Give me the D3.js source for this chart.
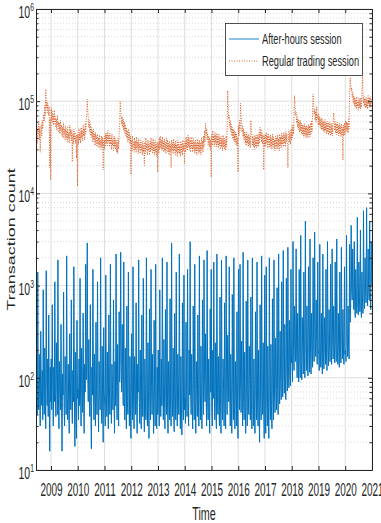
<!DOCTYPE html>
<html>
<head>
<meta charset="utf-8">
<script src="https://cdn.jsdelivr.net/npm/d3@7"></script>
<style>
  body { margin: 0; background: #fff; }
  text { font-family: "Liberation Sans", Arial, sans-serif; fill: #262626; }
</style>
</head>
<body>
<svg id="chart" width="381" height="523"></svg>
<script>
// x tick labels (years)
const years = [2009, 2010, 2011, 2012, 2013, 2014, 2015, 2016, 2017, 2018, 2019, 2020, 2021];
const decades = [1e1, 1e2, 1e3, 1e4, 1e5, 1e6];

// after-hours session transaction count, roughly weekly readings per year
const ah2008 = [55, 140, 40, 1400, 90, 45, 180, 60, 30, 320, 75, 50, 120, 35, 900, 65, 40, 210, 80, 28, 1450, 95, 50, 160, 38, 480, 70, 16, 130, 55];
const ah2009 = [160, 45, 620, 80, 30, 130, 55, 1100, 70, 38, 240, 90, 40, 1900, 60, 28, 150, 75, 45, 380, 55, 16, 110, 65, 850, 48, 30, 170, 85, 40, 2100, 60, 35, 140, 50, 25, 300, 95, 45, 700, 60, 32, 120, 55, 1600, 70, 18, 190, 45, 22, 420, 60];
const ah2010 = [75, 35, 160, 50, 1200, 65, 30, 210, 85, 42, 500, 60, 25, 140, 70, 1700, 95, 140, 2900, 110, 55, 260, 70, 38, 620, 50, 17, 130, 65, 1500, 80, 35, 180, 55, 30, 400, 75, 40, 1100, 60, 26, 150, 85, 45, 2000, 65, 32, 220, 50, 20, 350, 70];
const ah2011 = [50, 30, 1300, 70, 38, 190, 60, 28, 480, 85, 40, 1700, 55, 32, 140, 75, 45, 700, 60, 25, 150, 50, 2200, 80, 35, 230, 65, 30, 520, 90, 160, 2300, 120, 70, 380, 95, 50, 1800, 60, 35, 210, 75, 28, 600, 55, 40, 1400, 65, 30, 170, 45, 22];
const ah2012 = [300, 60, 35, 1600, 55, 28, 170, 80, 40, 650, 50, 25, 140, 70, 1900, 60, 32, 200, 45, 28, 480, 75, 38, 1200, 55, 26, 160, 65, 35, 2000, 50, 30, 240, 70, 22, 560, 60, 35, 1500, 80, 40, 180, 55, 25, 420, 65, 30, 1700, 50, 28, 130, 40];
const ah2013 = [200, 55, 30, 900, 70, 38, 160, 50, 2000, 65, 35, 260, 80, 28, 550, 60, 40, 1800, 55, 25, 150, 75, 35, 720, 50, 30, 2900, 60, 38, 210, 45, 26, 500, 70, 35, 1400, 55, 30, 180, 85, 40, 2200, 60, 28, 170, 50, 24, 650, 55, 35, 1300, 45];
const ah2014 = [60, 32, 400, 75, 38, 1500, 55, 30, 200, 65, 3000, 70, 40, 180, 50, 28, 600, 75, 35, 1700, 55, 25, 150, 70, 38, 480, 60, 30, 2100, 65, 35, 220, 50, 28, 700, 80, 40, 1900, 110, 55, 300, 65, 30, 2400, 60, 35, 160, 55, 25, 560, 70, 1500];
const ah2015 = [50, 30, 200, 60, 1800, 70, 35, 240, 55, 28, 2200, 65, 40, 170, 50, 30, 750, 60, 25, 1900, 55, 35, 160, 75, 30, 650, 50, 28, 2100, 70, 40, 290, 120, 55, 1600, 65, 30, 180, 55, 25, 800, 70, 35, 2000, 50, 28, 150, 60, 30, 520, 45, 22];
const ah2016 = [1500, 80, 45, 1700, 90, 42, 250, 65, 30, 2300, 55, 35, 190, 50, 25, 680, 65, 30, 1900, 70, 40, 220, 95, 35, 750, 60, 28, 2000, 55, 30, 160, 50, 25, 520, 70, 35, 1800, 55, 30, 200, 45, 20, 620, 60, 35, 2100, 75, 40, 240, 50, 22, 1300];
const ah2017 = [45, 25, 1600, 55, 30, 220, 48, 22, 2000, 60, 35, 230, 50, 28, 720, 65, 35, 1900, 70, 42, 270, 85, 45, 950, 75, 40, 2200, 90, 52, 320, 95, 58, 1100, 105, 62, 2400, 115, 68, 380, 100, 58, 1200, 125, 72, 2600, 135, 78, 420, 115, 82, 1500, 145];
const ah2018 = [160, 90, 3000, 200, 120, 600, 250, 150, 2500, 180, 100, 500, 160, 90, 1500, 170, 100, 3500, 150, 95, 450, 200, 110, 1400, 180, 100, 5000, 220, 120, 600, 170, 105, 1600, 200, 115, 3200, 190, 110, 500, 230, 130, 2000, 260, 150, 3800, 300, 170, 700, 240, 140, 1800, 200];
const ah2019 = [180, 120, 2800, 200, 130, 500, 170, 110, 2200, 190, 125, 450, 210, 140, 1500, 180, 120, 3000, 200, 135, 550, 240, 150, 1700, 220, 140, 2500, 260, 160, 600, 230, 145, 1800, 250, 150, 3200, 210, 140, 500, 190, 130, 1400, 220, 145, 2600, 240, 160, 550, 200, 140, 1600, 180];
const ah2020 = [200, 150, 3500, 250, 170, 600, 220, 160, 2800, 400, 600, 4500, 900, 700, 2500, 800, 550, 3000, 600, 450, 1500, 700, 500, 5500, 650, 480, 1800, 750, 520, 4000, 600, 450, 1400, 700, 500, 6500, 800, 560, 2000, 900, 650, 7000, 850, 600, 2500, 950, 700, 5000, 800, 550, 3000, 1000];

// regular trading session transaction count (thousands), roughly weekly readings per year
const rt2008 = [40, 55, 35, 50, 44, 60, 38, 52, 28, 48, 56, 42, 62, 50, 58, 72, 60, 90, 70, 135, 85, 100, 75, 95, 80, 70, 88, 19, 65, 14];
const rt2009 = [85, 62, 78, 58, 72, 55, 80, 60, 68, 52, 64, 48, 70, 54, 60, 46, 58, 44, 62, 48, 55, 42, 52, 40, 58, 44, 50, 38, 54, 40, 48, 36, 52, 39, 46, 35, 55, 42, 50, 37, 48, 22, 44, 34, 50, 38, 46, 35, 42, 24, 44, 12];
const rt2010 = [44, 34, 50, 38, 46, 35, 52, 40, 48, 37, 55, 42, 50, 38, 58, 44, 62, 75, 105, 80, 68, 52, 62, 46, 56, 42, 52, 40, 48, 36, 50, 38, 44, 33, 46, 35, 42, 32, 44, 34, 40, 31, 43, 33, 38, 30, 42, 32, 40, 18, 38, 30];
const rt2011 = [42, 32, 46, 35, 44, 33, 48, 36, 42, 32, 45, 34, 40, 30, 44, 33, 38, 29, 42, 32, 40, 30, 38, 28, 36, 27, 40, 30, 44, 60, 100, 80, 72, 56, 68, 52, 64, 48, 60, 45, 56, 42, 52, 40, 48, 36, 50, 38, 46, 34, 42, 16];
const rt2012 = [38, 29, 42, 32, 36, 28, 40, 30, 37, 28, 41, 31, 36, 27, 39, 30, 35, 27, 38, 29, 34, 26, 37, 28, 33, 20, 36, 27, 40, 30, 35, 26, 38, 29, 34, 26, 37, 28, 40, 30, 36, 27, 39, 29, 35, 26, 38, 28, 34, 25, 36, 17];
const rt2013 = [36, 27, 40, 30, 42, 31, 38, 29, 41, 30, 37, 28, 39, 29, 36, 27, 40, 30, 38, 28, 35, 26, 37, 28, 34, 19, 38, 29, 36, 27, 39, 29, 35, 26, 37, 28, 34, 25, 38, 28, 36, 27, 33, 25, 37, 28, 35, 26, 38, 29, 34, 21];
const rt2014 = [37, 28, 41, 31, 39, 29, 43, 32, 40, 30, 38, 28, 41, 31, 37, 28, 40, 30, 36, 27, 38, 29, 35, 26, 39, 29, 36, 27, 38, 28, 35, 26, 40, 30, 37, 28, 42, 32, 48, 36, 58, 44, 50, 38, 45, 34, 42, 32, 40, 30, 38, 15];
const rt2015 = [44, 33, 48, 36, 42, 32, 46, 35, 43, 32, 45, 34, 41, 31, 44, 33, 40, 30, 42, 32, 39, 29, 43, 32, 40, 30, 38, 29, 42, 32, 60, 130, 85, 64, 70, 52, 62, 47, 56, 42, 52, 39, 50, 37, 48, 36, 46, 34, 44, 33, 40, 17];
const rt2016 = [55, 42, 62, 48, 95, 70, 60, 46, 54, 41, 50, 38, 47, 35, 44, 33, 46, 35, 42, 32, 44, 33, 41, 31, 62, 46, 44, 33, 42, 32, 40, 30, 43, 32, 41, 31, 44, 33, 42, 32, 46, 35, 52, 40, 48, 36, 45, 34, 43, 18, 42, 32];
const rt2017 = [44, 33, 46, 35, 42, 31, 45, 34, 41, 31, 43, 32, 40, 30, 44, 33, 41, 31, 38, 29, 42, 32, 40, 30, 43, 32, 39, 29, 44, 33, 41, 31, 45, 34, 42, 32, 46, 35, 43, 32, 47, 36, 44, 33, 19, 34, 48, 36, 45, 34, 50, 38];
const rt2018 = [52, 40, 56, 44, 80, 115, 90, 70, 76, 58, 68, 52, 64, 49, 60, 46, 62, 47, 58, 44, 56, 43, 54, 41, 57, 43, 53, 40, 55, 42, 52, 40, 56, 43, 54, 41, 58, 44, 62, 47, 75, 120, 95, 72, 82, 62, 78, 59, 88, 66, 72, 55];
const rt2019 = [72, 55, 68, 52, 64, 49, 66, 50, 62, 47, 60, 46, 63, 48, 58, 44, 61, 46, 57, 43, 60, 45, 56, 42, 58, 44, 55, 42, 62, 75, 64, 48, 60, 45, 57, 43, 59, 45, 55, 42, 58, 44, 54, 41, 57, 43, 52, 23, 55, 42, 58, 44];
const rt2020 = [62, 48, 60, 46, 58, 45, 64, 50, 120, 182, 150, 130, 140, 110, 125, 96, 115, 90, 110, 86, 105, 82, 112, 88, 100, 80, 108, 85, 104, 82, 110, 86, 130, 190, 120, 95, 112, 88, 106, 84, 110, 86, 104, 82, 115, 90, 108, 85, 112, 88, 105, 95];

const seriesNames = ["After-hours session", "Regular trading session"];
const dataStart = 2008.44;

const ahYears = [[2008, ah2008], [2009, ah2009], [2010, ah2010], [2011, ah2011], [2012, ah2012], [2013, ah2013], [2014, ah2014],
  [2015, ah2015], [2016, ah2016], [2017, ah2017], [2018, ah2018], [2019, ah2019], [2020, ah2020]];
const rtYears = [[2008, rt2008], [2009, rt2009], [2010, rt2010], [2011, rt2011], [2012, rt2012], [2013, rt2013], [2014, rt2014],
  [2015, rt2015], [2016, rt2016], [2017, rt2017], [2018, rt2018], [2019, rt2019], [2020, rt2020]];

// spread each year's readings evenly over that year
function toPoints(list, mult) {
  const pts = [];
  list.forEach(([yr, vals]) => {
    const t0 = Math.max(yr, dataStart), t1 = yr + 1;
    vals.forEach((v, i) => pts.push({t: t0 + (i + 0.5) * (t1 - t0) / vals.length, v: v * mult}));
  });
  return pts;
}
const ahPoints = toPoints(ahYears, 1);
const rtPoints = toPoints(rtYears, 1000);

const mLeft = 36, mRight = 372, mTop = 9, mBottom = 470;
const svg = d3.select("#chart");

const x = d3.scaleLinear().domain([dataStart, 2021.0]).range([mLeft, mRight]);
const y = d3.scaleLog().domain([10, 1e6]).range([mBottom, mTop]);

const minors = [];
for (let e = 1; e < 6; e++) for (let k = 2; k < 10; k++) minors.push(k * Math.pow(10, e));

// grid
const grid = svg.append("g");
grid.selectAll(".minor").data(minors).enter().append("line")
  .attr("x1", mLeft).attr("x2", mRight)
  .attr("y1", d => y(d)).attr("y2", d => y(d))
  .attr("stroke", "#cfcfcf").attr("stroke-width", 0.8).attr("stroke-dasharray", "1,2");
grid.selectAll(".major").data(decades).enter().append("line")
  .attr("x1", mLeft).attr("x2", mRight)
  .attr("y1", d => y(d)).attr("y2", d => y(d))
  .attr("stroke", "#dedede").attr("stroke-width", 1);
grid.selectAll(".vert").data(years).enter().append("line")
  .attr("x1", d => x(d)).attr("x2", d => x(d))
  .attr("y1", mTop).attr("y2", mBottom)
  .attr("stroke", "#dedede").attr("stroke-width", 1);

svg.append("clipPath").attr("id", "clip").append("rect")
  .attr("x", mLeft).attr("y", mTop).attr("width", mRight - mLeft).attr("height", mBottom - mTop);

const line = d3.line().x(d => x(d.t)).y(d => y(d.v));
const plot = svg.append("g").attr("clip-path", "url(#clip)");
plot.append("path").datum(rtPoints).attr("d", line)
  .attr("fill", "none").attr("stroke", "#D95319").attr("stroke-width", 0.9).attr("stroke-dasharray", "1,1.5");
plot.append("path").datum(ahPoints).attr("d", line)
  .attr("fill", "none").attr("stroke", "#0072BD").attr("stroke-width", 1);

// axes (box with inward ticks)
const axisColor = "#262626";
function styleAxis(g) {
  g.selectAll("path, line").attr("stroke", axisColor);
  g.select(".domain").attr("stroke-width", 1);
}
const xBottom = svg.append("g").attr("transform", `translate(0,${mBottom})`)
  .call(d3.axisBottom(x).tickValues(years).tickSize(-4).tickSizeOuter(0).tickFormat(d3.format("d")));
xBottom.call(styleAxis);
xBottom.selectAll("text").attr("y", 26).attr("dy", 0)
  .attr("transform", "scale(0.57,1)").style("font-size", "17.5px").attr("fill", axisColor);
svg.append("g").attr("transform", `translate(0,${mTop})`)
  .call(d3.axisTop(x).tickValues(years).tickSize(-4).tickSizeOuter(0).tickFormat(""))
  .call(styleAxis);

svg.append("g").attr("transform", `translate(${mLeft},0)`)
  .call(d3.axisLeft(y).tickValues(decades).tickSize(-4).tickSizeOuter(0).tickFormat(""))
  .call(styleAxis);
svg.append("g").attr("transform", `translate(${mLeft},0)`)
  .call(d3.axisLeft(y).tickValues(minors).tickSize(-2.5).tickSizeOuter(0).tickFormat(""))
  .call(styleAxis);
svg.append("g").attr("transform", `translate(${mRight},0)`)
  .call(d3.axisRight(y).tickValues(decades).tickSize(-4).tickSizeOuter(0).tickFormat(""))
  .call(styleAxis);
svg.append("g").attr("transform", `translate(${mRight},0)`)
  .call(d3.axisRight(y).tickValues(minors).tickSize(-2.5).tickSizeOuter(0).tickFormat(""))
  .call(styleAxis);

// y tick labels 10^n
decades.forEach(d => {
  const t = svg.append("text")
    .attr("transform", `translate(34,${y(d) + 9}) scale(0.62,1)`)
    .attr("text-anchor", "end").style("font-size", "17px");
  t.append("tspan").text("10");
  t.append("tspan").attr("dy", -7).style("font-size", "11px").text(Math.round(Math.log10(d)));
});

// axis titles
svg.append("text").attr("transform", "translate(204,520) scale(0.6,1)")
  .attr("text-anchor", "middle").style("font-size", "18px").text("Time");
svg.append("text").attr("transform", `translate(15,${(mTop + mBottom) / 2}) rotate(-90) scale(1,0.62)`)
  .attr("text-anchor", "middle").style("font-size", "18px").text("Transaction count");

// legend
const lg = svg.append("g");
lg.append("rect").attr("x", 225.5).attr("y", 23.5).attr("width", 137).attr("height", 52)
  .attr("fill", "#fff").attr("stroke", axisColor).attr("stroke-width", 0.8);
const legendRows = [
  {name: seriesNames[0], color: "#0072BD", dash: null, y: 39},
  {name: seriesNames[1], color: "#D95319", dash: "1,1.5", y: 61}
];
legendRows.forEach(r => {
  lg.append("line").attr("x1", 229).attr("x2", 259).attr("y1", r.y).attr("y2", r.y)
    .attr("stroke", r.color).attr("stroke-width", 0.9).attr("stroke-dasharray", r.dash);
  lg.append("text").attr("transform", `translate(262,${r.y + 5}) scale(0.66,1)`)
    .style("font-size", "14px").text(r.name);
});
</script>
</body>
</html>
